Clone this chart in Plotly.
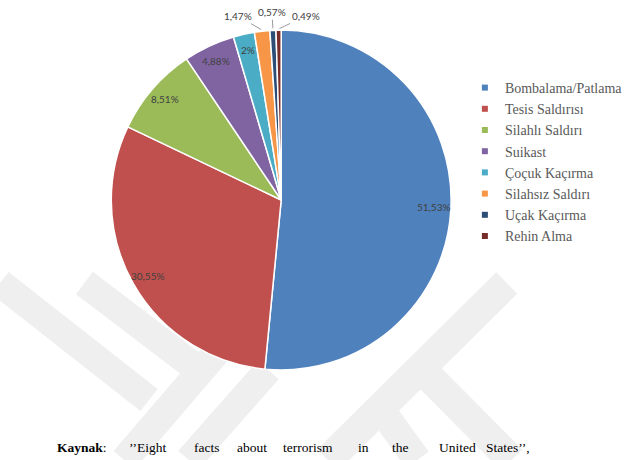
import math
import plotly.graph_objects as go

categories = ["Bombalama/Patlama", "Tesis Saldırısı", "Silahlı Saldırı", "Suikast",
              "Çoçuk Kaçırma", "Silahsız Saldırı", "Uçak Kaçırma", "Rehin Alma"]
values = [51.53, 30.55, 8.51, 4.88, 2, 1.47, 0.57, 0.49]
colors = ["#4F81BD", "#C0504D", "#9BBB59", "#8064A2", "#4BACC6", "#F79646", "#2C4D75", "#772C2A"]
# which slices get their label outside with a leader line, and the label offset (px)
outside_offsets = {5: (-24, -14), 6: (-1, -17), 7: (27, -13)}

caption_words = ["<b>Kaynak</b>:", "’’Eight", "facts", "about", "terrorism", "in", "the", "United", "States’’,"]
caption_x = [55, 128, 193, 237, 283, 358, 393, 440, 487]

W, H = 628, 460
labels_txt = [("{:g}".format(v)).replace(".", ",") + "%" for v in values]
label_font = dict(family="Lato, Open Sans", size=10, color="#404040")

cx, cy, r = 283, 200, 171
fig = go.Figure()
fig.add_trace(go.Pie(
    labels=categories, values=values, sort=False, direction="clockwise", rotation=0,
    textinfo="none",
    marker=dict(colors=colors, line=dict(color="white", width=1.5)),
    showlegend=False,
    domain=dict(x=[(cx - r) / W, (cx + r) / W], y=[1 - (cy + r) / H, 1 - (cy - r) / H]),
    hoverinfo="label+percent",
))
for c, col in zip(categories, colors):
    fig.add_trace(go.Scatter(x=[None], y=[None], mode="markers", name=c,
                             marker=dict(symbol="square", size=6, color=col)))

# data labels at each slice's mid-angle (inside near the rim, or outside with a leader)
total = sum(values)
cum = 0.0
for i, v in enumerate(values):
    mid = (cum + v / 2) / total * 2 * math.pi
    cum += v
    if i in outside_offsets:
        px = cx + r * math.sin(mid)
        py = cy - r * math.cos(mid)
        ax, ay = outside_offsets[i]
        fig.add_annotation(x=px / W, y=1 - py / H, xref="paper", yref="paper",
                           text=labels_txt[i], showarrow=True, arrowhead=0,
                           arrowwidth=0.8, arrowcolor="#7f7f7f", ax=ax, ay=ay,
                           standoff=1, font=label_font)
    else:
        rr = 0.9 * r
        px = cx + rr * math.sin(mid)
        py = cy - rr * math.cos(mid)
        fig.add_annotation(x=px / W, y=1 - py / H, xref="paper", yref="paper",
                           text=labels_txt[i], showarrow=False,
                           xanchor="center", yanchor="middle", font=label_font)

# faint watermark (background logo)
wm = "#efefef"
segs = [((0, 283), (150, 400), 28), ((85, 283), (200, 370), 28),
        ((125, 460), (220, 350), 28), ((190, 460), (270, 370), 28),
        ((330, 460), (510, 283), 30), ((420, 365), (515, 460), 30),
        ((380, 405), (420, 460), 28)]
for (x0, y0), (x1, y1), lw in segs:
    fig.add_shape(type="line", xref="paper", yref="paper", layer="below",
                  x0=x0 / W, y0=1 - y0 / H, x1=x1 / W, y1=1 - y1 / H,
                  line=dict(color=wm, width=lw))

for w, x in zip(caption_words, caption_x):
    fig.add_annotation(text=w, x=x / W, y=1 - 447 / H, xref="paper", yref="paper",
                       xanchor="left", yanchor="middle", showarrow=False,
                       font=dict(family="Liberation Serif, Times New Roman, serif", size=13.5, color="black"))

fig.update_layout(
    width=W, height=H, margin=dict(l=0, r=0, t=0, b=0),
    paper_bgcolor="white", plot_bgcolor="white",
    xaxis=dict(visible=False), yaxis=dict(visible=False),
    legend=dict(x=0.745, y=1 - 72 / H, xanchor="left", yanchor="top",
                font=dict(family="Liberation Serif, Times New Roman, serif", size=14, color="#595959"),
                itemwidth=30, bgcolor="rgba(0,0,0,0)"),
)
fig.write_html("out.html")
